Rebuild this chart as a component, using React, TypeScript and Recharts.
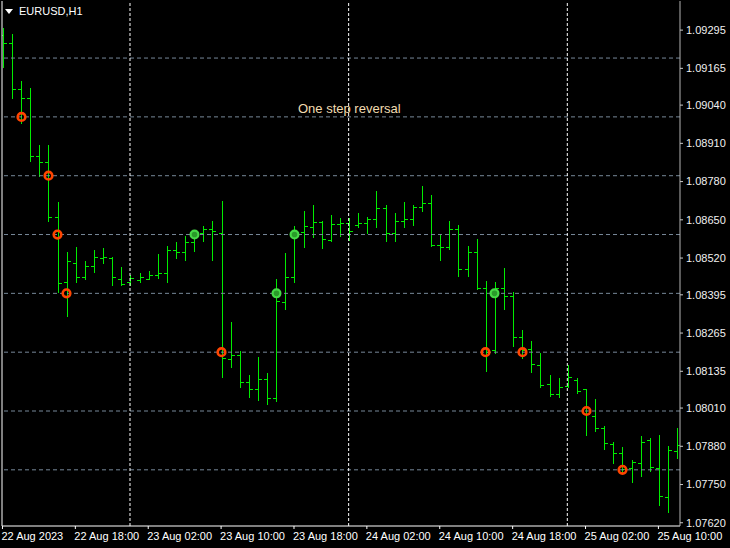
import { ComposedChart, Bar, Scatter, XAxis, YAxis, ReferenceLine } from 'recharts';

// EURUSD H1, 22 Aug 10:00 .. 25 Aug 12:00
const opens = [
  1.09279, 1.09252, 1.09095, 1.09065, 1.08867, 1.08847, 1.0866, 1.08439, 1.08504, 1.08456,
  1.08493, 1.08521, 1.08521, 1.08449, 1.08439, 1.08446, 1.08449, 1.08463, 1.0847, 1.08548,
  1.08541, 1.08575, 1.08606, 1.08619, 1.08606, 1.08177, 1.08191, 1.08099, 1.08075, 1.08109,
  1.08045, 1.08371, 1.08456, 1.08609, 1.08626, 1.08643, 1.08582, 1.08636, 1.0864, 1.08633,
  1.0864, 1.08653, 1.08691, 1.08606, 1.08646, 1.08653, 1.08694, 1.08708, 1.08565, 1.08558,
  1.08619, 1.08483, 1.08541, 1.08419, 1.08208, 1.08419, 1.08391, 1.08252, 1.08211, 1.08157,
  1.08092, 1.08058, 1.08085, 1.08106, 1.08075, 1.07983, 1.07943, 1.07888, 1.07858, 1.07807,
  1.07824, 1.07902, 1.07807, 1.07708, 1.07864,
];
const highs = [
  1.09303, 1.09282, 1.09122, 1.09099, 1.08905, 1.08905, 1.08711, 1.08541, 1.08558, 1.0851,
  1.08548, 1.08555, 1.08524, 1.0849, 1.08463, 1.0847, 1.08476, 1.08534, 1.08561, 1.08575,
  1.08595, 1.08616, 1.08629, 1.08646, 1.08714, 1.08303, 1.08204, 1.08123, 1.08184, 1.0813,
  1.08449, 1.08538, 1.08629, 1.0868, 1.08701, 1.08646, 1.08667, 1.08657, 1.08657, 1.08674,
  1.0866, 1.08748, 1.08701, 1.08674, 1.08711, 1.08701, 1.08765, 1.08735, 1.08602, 1.08646,
  1.08633, 1.08561, 1.08585, 1.08442, 1.08439, 1.08487, 1.08405, 1.08276, 1.08238, 1.08198,
  1.08123, 1.08113, 1.08157, 1.08113, 1.08075, 1.08041, 1.07949, 1.07895, 1.07878, 1.07834,
  1.07915, 1.07909, 1.07919, 1.07881, 1.07943,
];
const lows = [
  1.0917, 1.09065, 1.0898, 1.0885, 1.08799, 1.08646, 1.08405, 1.08323, 1.08439, 1.08449,
  1.08473, 1.08504, 1.08429, 1.08429, 1.08429, 1.08439, 1.08449, 1.08453, 1.08439, 1.08521,
  1.08514, 1.08544, 1.08578, 1.08514, 1.08116, 1.0815, 1.08082, 1.08048, 1.08038, 1.08024,
  1.08034, 1.08347, 1.08439, 1.08558, 1.08592, 1.08555, 1.08578, 1.08595, 1.08582, 1.08626,
  1.08606, 1.08626, 1.08578, 1.08578, 1.08626, 1.08633, 1.0868, 1.08561, 1.08514, 1.08551,
  1.08459, 1.08459, 1.08415, 1.08136, 1.08198, 1.08347, 1.08221, 1.08181, 1.08133, 1.08082,
  1.08051, 1.08048, 1.08082, 1.08062, 1.07919, 1.07932, 1.07871, 1.07824, 1.0779, 1.07759,
  1.07779, 1.07796, 1.07681, 1.07657, 1.07841,
];
const closes = [
  1.09252, 1.09095, 1.09065, 1.08867, 1.08847, 1.0866, 1.08436, 1.0851, 1.08456, 1.08493,
  1.08524, 1.08524, 1.08456, 1.08432, 1.08453, 1.08456, 1.08463, 1.0847, 1.08548, 1.08541,
  1.08575, 1.08602, 1.08619, 1.08612, 1.08181, 1.08191, 1.08099, 1.08075, 1.08109, 1.08045,
  1.08374, 1.08456, 1.08609, 1.08629, 1.08643, 1.08585, 1.08636, 1.0864, 1.08612, 1.0864,
  1.08653, 1.08691, 1.08606, 1.08646, 1.08653, 1.08694, 1.08708, 1.08565, 1.08558, 1.08619,
  1.08483, 1.08541, 1.08419, 1.08201, 1.08419, 1.08391, 1.08252, 1.08208, 1.0816, 1.08089,
  1.08058, 1.08082, 1.08116, 1.08068, 1.0799, 1.07943, 1.07892, 1.07858, 1.07803, 1.07827,
  1.07895, 1.0781, 1.07711, 1.07868, 1.07885,
];

// "One step reversal" marks (bar index, level)
const sellBars = [2, 5, 6, 7, 24, 53, 57, 64, 68];
const sellLevels = [1.09, 1.088, 1.086, 1.084, 1.082, 1.082, 1.082, 1.08, 1.078];
const buyBars = [21, 30, 32, 54];
const buyLevels = [1.086, 1.084, 1.086, 1.084];

const timeTicks = [0, 8, 16, 24, 32, 40, 48, 56, 64, 72];
const timeLabels = [
  '22 Aug 2023', '22 Aug 18:00', '23 Aug 02:00', '23 Aug 10:00', '23 Aug 18:00',
  '24 Aug 02:00', '24 Aug 10:00', '24 Aug 18:00', '25 Aug 02:00', '25 Aug 10:00',
];
const priceTicks = [
  1.09295, 1.09165, 1.0904, 1.0891, 1.0878, 1.0865, 1.0852,
  1.08395, 1.08265, 1.08135, 1.0801, 1.0788, 1.0775, 1.0762,
];
const gridLevels = [1.092, 1.09, 1.088, 1.086, 1.084, 1.082, 1.08, 1.078];
const daySeparators = [14, 38, 62];

const BAR_COLOR = '#00ec00';
const FONT = '"Liberation Sans", Arial, sans-serif';

const data = opens.map((open, i) => ({
  i,
  open,
  high: highs[i],
  low: lows[i],
  close: closes[i],
}));
const sells = sellBars.map((i, k) => ({ i, level: sellLevels[k] }));
const buys = buyBars.map((i, k) => ({ i, level: buyLevels[k] }));

function OhlcShape(props: any) {
  const { x, y, width, height, payload } = props;
  if (x == null || y == null || !payload) return null;
  const top = Math.min(y, y + height);
  const h = Math.abs(height);
  const range = payload.high - payload.low;
  const k = range > 0 ? h / range : 0;
  const cx = Math.round(x + width / 2) + 0.5;
  const yo = Math.round(top + (payload.high - payload.open) * k) + 0.5;
  const yc = Math.round(top + (payload.high - payload.close) * k) + 0.5;
  return (
    <g stroke={BAR_COLOR} strokeWidth={1}>
      <line x1={cx} x2={cx} y1={Math.round(top)} y2={Math.round(top + h) + 1} />
      <line x1={cx - 3.5} x2={cx - 0.5} y1={yo} y2={yo} />
      <line x1={cx + 0.5} x2={cx + 3.5} y1={yc} y2={yc} />
    </g>
  );
}

function SellMark(props: any) {
  const { cx, cy } = props;
  if (cx == null || cy == null) return null;
  return <circle cx={Math.round(cx) + 0.5} cy={cy} r={3.8} fill="none" stroke="#ff4500" strokeWidth={2.6} />;
}

function BuyMark(props: any) {
  const { cx, cy } = props;
  if (cx == null || cy == null) return null;
  return <circle cx={Math.round(cx) + 0.5} cy={cy} r={3.9} fill="#2a9a2a" stroke="#46d846" strokeWidth={2.2} />;
}

function TimeTick(props: any) {
  const { x, y, payload } = props;
  const k = timeTicks.indexOf(payload.value);
  return (
    <text x={x - 1} y={y + 9} fill="#ffffff" fontSize={11} fontFamily={FONT} textAnchor="start">
      {timeLabels[k]}
    </text>
  );
}

export default function App() {
  return (
    <div style={{ position: 'fixed', left: 0, top: 0, width: 730, height: 548, background: '#000' }}>
      <ComposedChart
        width={730}
        height={548}
        data={data}
        margin={{ top: 1, right: 0, bottom: 0, left: 0 }}
      >
        <XAxis
          dataKey="i"
          type="number"
          domain={[-0.05, 74.37]}
          allowDataOverflow
          ticks={timeTicks}
          interval={0}
          height={22}
          tickSize={3}
          tickLine={{ stroke: '#ffffff' }}
          axisLine={{ stroke: '#ffffff' }}
          tick={<TimeTick />}
        />
        <YAxis
          yAxisId="left"
          orientation="left"
          width={2}
          domain={[0, 1]}
          tick={false}
          tickLine={false}
          axisLine={{ stroke: '#ffffff' }}
        />
        <YAxis
          orientation="right"
          width={50}
          domain={[1.07609, 1.09394]}
          allowDataOverflow
          ticks={priceTicks}
          interval={0}
          tickSize={3}
          tickMargin={3}
          tickLine={{ stroke: '#c8c8c8' }}
          axisLine={{ stroke: '#b4b4b4' }}
          tick={{ fill: '#f0f0f0', fontSize: 11, fontFamily: FONT }}
          tickFormatter={(v: number) => v.toFixed(5)}
        />
        {gridLevels.map((v) => (
          <ReferenceLine key={'h' + v} y={v} stroke="#778899" strokeDasharray="4 3" />
        ))}
        {daySeparators.map((v) => (
          <ReferenceLine key={'d' + v} x={v} stroke="#ffffff" strokeDasharray="3 2" />
        ))}
        <Bar
          dataKey={(d: any) => [d.low, d.high]}
          barSize={6}
          shape={<OhlcShape />}
          isAnimationActive={false}
        />
        <Scatter data={sells} dataKey="level" shape={<SellMark />} isAnimationActive={false} />
        <Scatter data={buys} dataKey="level" shape={<BuyMark />} isAnimationActive={false} />
      </ComposedChart>
      <svg
        width={730}
        height={548}
        style={{ position: 'absolute', left: 0, top: 0, pointerEvents: 'none' }}
      >
        <polygon points="5,9 13,9 9,14" fill="#ffffff" />
        <text x={19} y={15} fill="#ffffff" fontSize={11} fontFamily={FONT}>
          EURUSD,H1
        </text>
        <text x={298} y={113} fill="#f2dcb0" fontSize={13} fontFamily={FONT}>
          One step reversal
        </text>
      </svg>
    </div>
  );
}
